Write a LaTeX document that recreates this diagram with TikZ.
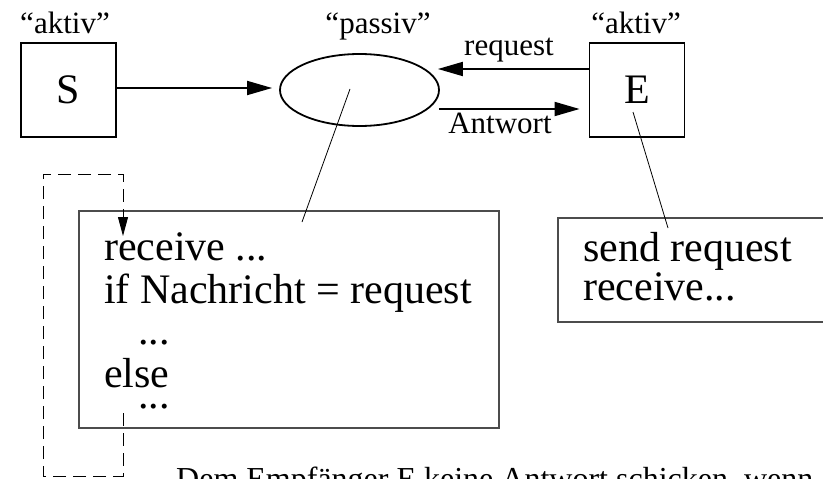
\documentclass[tikz,border=0pt]{standalone}
\usepackage{fontspec}
\setmainfont{Liberation Serif}
\usetikzlibrary{arrows.meta,shapes.geometric}
\tikzset{
  lbl/.style={inner sep=0pt, anchor=base, font=\fontsize{31}{31}\selectfont},
  big/.style={inner sep=0pt, anchor=base west, font=\fontsize{42}{43}\selectfont},
  procbox/.style={draw, line width=1.8pt, minimum width=95pt, minimum height=94pt, inner sep=0pt, font=\fontsize{42}{42}\selectfont},
  bigarrow/.style={line width=1.8pt, -{Triangle[length=25pt,width=14pt]}},
  thin/.style={line width=0.8pt},
  codebox/.style={draw=black!70, line width=1.4pt},
}
\begin{document}
\begin{tikzpicture}[x=1pt,y=-1pt]
\path[use as bounding box, clip] (0,0) rectangle (823,479);
\fill[white] (0,0) rectangle (823,479);
% top labels
\node[lbl] (a1) at (65,33) {“aktiv”};
\node[lbl] (p1) at (378,33) {“passiv”};
\node[lbl] (a2) at (636,33) {“aktiv”};
% main shapes
\node[procbox] (S) at (68.5,90) {S};
\node[draw, ellipse, line width=1.8pt, minimum width=159pt, minimum height=72pt, inner sep=0pt] (ell) at (359.5,90) {};
\node[procbox] (E) at (637,90) {E};
% arrows
\draw[bigarrow] ([yshift=2pt]S.east) -- ([shift={(-7pt,2pt)}]ell.west);
\draw[bigarrow] ([yshift=21pt]E.west) -- ([shift={(-2pt,21pt)}]ell.east);
\draw[bigarrow] ([shift={(-1pt,-19pt)}]ell.east) -- ([shift={(-9pt,-19pt)}]E.west);
\node[lbl] (req) at (509,55) {request};
\node[lbl] (ant) at (500,133) {Antwort};
% code boxes
\node[codebox, minimum width=420pt, minimum height=217pt, inner sep=0pt] (cb1) at (289,319.5) {};
\node[codebox, minimum width=282pt, minimum height=104pt, inner sep=0pt] (cb2) at (699,270) {};
\coordinate (c1) at (302,222);
\coordinate (c2) at (668,228);
\draw[thin] ([xshift=-9.5pt,yshift=1pt]ell.center) -- (c1);
\draw[thin] ([shift={(-4pt,-22pt)}]E.center) -- (c2);
% code text
\node[big] (t1) at (104,260) {receive ...};
\node[big] (t2) at (104,303) {if Nachricht = request};
\node[big] (t3) at (138,344) {...};
\node[big] (t4) at (104,387) {else};
\node[big] (t5) at (138,408) {...};
\node[big] (u1) at (583,261) {send request};
\node[big] (u2) at (583,300) {receive...};
% dashed loop
\coordinate (d0) at (123,413);
\coordinate (d1) at (123,476);
\coordinate (d2) at (43,476);
\coordinate (d3) at (43,174);
\coordinate (d4) at (123,174);
\coordinate (d5) at (123,236);
\draw[line width=0.9pt, dash pattern=on 13pt off 7pt, -{Triangle[length=19pt,width=10pt]}] (d0) -- (d1) -- (d2) -- (d3) -- (d4) -- (d5);
% bottom text
\node[inner sep=0pt, anchor=base west, font=\fontsize{32}{32}\selectfont] (bt) at (176,489) {Dem Empfänger E keine Antwort schicken, wenn};
\end{tikzpicture}
\end{document}
